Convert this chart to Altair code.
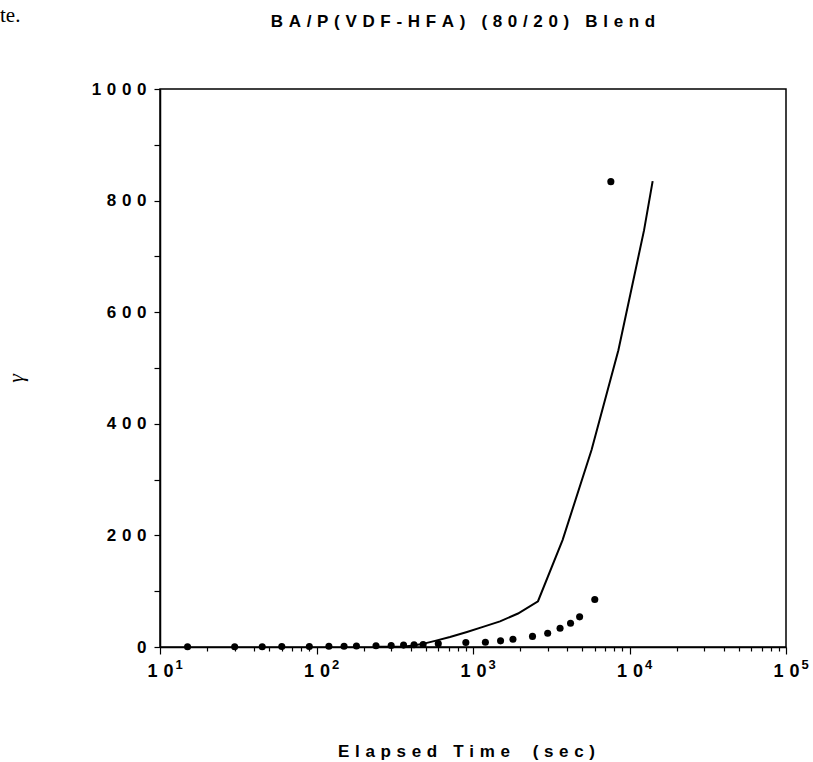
import altair as alt
import pandas as pd

SP = "\u2004"

def spaced(s):
    return SP.join(s)

# data points (elapsed time in sec, gamma)
pt_time = [15, 30, 45, 60, 90, 120, 150, 180, 240, 300, 360, 420, 480, 600,
           900, 1200, 1500, 1800, 2400, 3000, 3600, 4200, 4800, 6000, 7600]
pt_gamma = [0.3, 0.5, 0.6, 0.8, 1.0, 1.3, 1.5, 1.8, 2.3, 2.8, 3.4, 4.0, 4.6, 6,
            8, 8.5, 11, 14, 19, 24.5, 33.5, 42.5, 54, 85, 834]

# fitted curve
fit_time = [240, 320, 368, 426, 493, 572, 713, 915, 1158, 1488, 1939, 2602,
            3740, 5720, 8490, 12390, 14060]
fit_gamma = [0.3, 0.6, 1, 3, 6.5, 11, 18, 27, 36, 46, 60, 82,
             192, 353, 532, 747, 835]

decades = [10, 100, 1000, 10000, 100000]
exponents = ["1", "2", "3", "4", "5"]
x_ticks = [m * d for d in [10, 100, 1000, 10000] for m in range(1, 10)] + [100000]
y_ticks = list(range(0, 1001, 100))

title_text = "BA/P(VDF-HFA) (80/20) Blend"
x_title_words = ["Elapsed Time", "(sec)"]
y_title = "γ"
corner_text = "te."

pts_df = pd.DataFrame({"t": pt_time, "g": pt_gamma})
fit_df = pd.DataFrame({"t": fit_time, "g": fit_gamma})
exp_df = pd.DataFrame({"t": decades, "e": exponents})
corner_df = pd.DataFrame({"s": [corner_text]})

FONT = "Liberation Sans"
major_test = "abs(log(datum.value)/LN10 - round(log(datum.value)/LN10)) < 0.001"

xscale = alt.Scale(type="log", domain=[10, 100000], nice=False)
yscale = alt.Scale(domain=[0, 1000], nice=False, zero=False)

x_title = (SP * 4).join(spaced(w) for w in x_title_words)

xaxis = alt.Axis(
    values=x_ticks,
    labelExpr=f"{major_test} ? '1{SP}0{SP}' : ''",
    tickSize={"condition": {"test": major_test, "value": 7}, "value": 4},
    labelOverlap=False,
    labelFlush=False,
    labelFontSize=18,
    labelFont=FONT,
    labelFontWeight="bold",
    labelPadding=8,
    title=x_title,
    titleFont=FONT,
    titleFontSize=17,
    titleFontWeight="bold",
    titleX=306,
    titleY=109.5,
    titleAlign="center",
    titleBaseline="alphabetic",
)

yaxis = alt.Axis(
    values=y_ticks,
    format="d",
    labelExpr=f"datum.value % 200 == 0 ? join(split(datum.label, ''), '{SP}') : ''",
    tickSize=6,
    labelPadding=8,
    labelFontSize=17,
    labelFont=FONT,
    labelFontWeight="bold",
    labelOverlap=False,
    labelFlush=False,
    labelBaseline="middle",
    title=y_title,
    titleFont="Liberation Serif",
    titleFontStyle="italic",
    titleFontWeight="normal",
    titleFontSize=22,
    titleX=-145,
    titleY=289,
    titleAlign="center",
    titleBaseline="middle",
)

line = alt.Chart(fit_df).mark_line(color="black", strokeWidth=2).encode(
    x=alt.X("t:Q", scale=xscale, axis=xaxis),
    y=alt.Y("g:Q", scale=yscale, axis=yaxis),
)

points = alt.Chart(pts_df).mark_circle(size=50, color="black", opacity=1).encode(
    x=alt.X("t:Q"),
    y=alt.Y("g:Q"),
)

exps = alt.Chart(exp_df).mark_text(
    font=FONT, fontSize=13, fontWeight="bold", align="center",
    baseline="alphabetic", dx=19, color="black"
).encode(
    x=alt.X("t:Q"),
    y=alt.value(580),
    text="e:N",
)

corner = alt.Chart(corner_df).mark_text(
    font="Liberation Serif", fontSize=21, align="left", baseline="alphabetic", color="black"
).encode(
    x=alt.value(-160),
    y=alt.value(-67),
    text="s:N",
)

chart = alt.layer(line, points, exps, corner).properties(
    width=626,
    height=558,
    autosize=alt.AutoSizeParams(type="none"),
    padding={"left": 160, "top": 89, "right": 27, "bottom": 115},
    title=alt.Title(
        spaced(title_text),
        font=FONT,
        fontSize=17,
        fontWeight="bold",
        anchor="middle",
        baseline="alphabetic",
        offset=-39,
        dx=-10,
        color="black",
    ),
).configure_view(
    stroke="black", strokeWidth=1.5
).configure_axis(
    grid=False,
    domainColor="black",
    domainWidth=1.5,
    tickColor="black",
    tickWidth=1.2,
    labelColor="black",
    titleColor="black",
)

chart.save("out.html", embed_options={"renderer": "svg", "actions": False})
